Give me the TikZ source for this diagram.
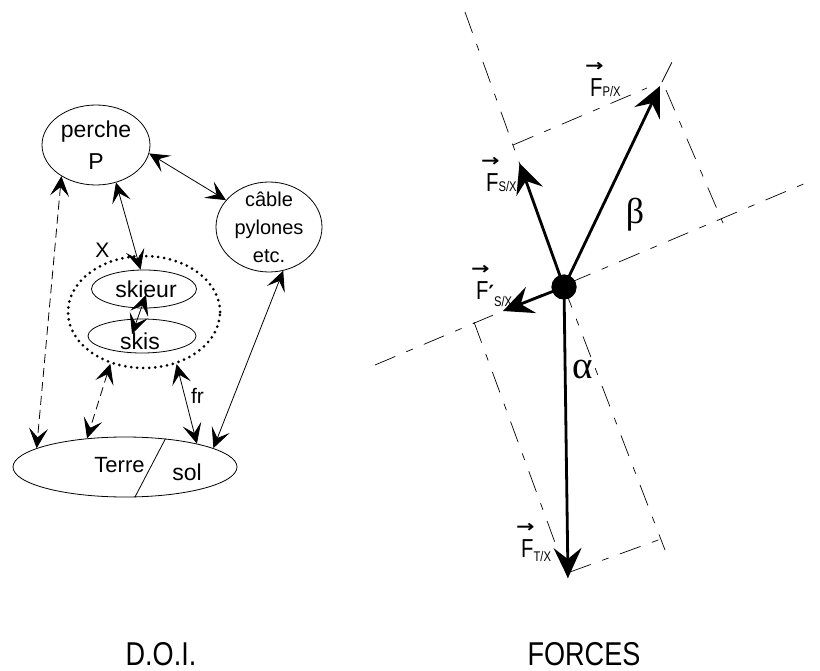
\documentclass[tikz,border=0pt]{standalone}
\usepackage{fontspec}
\setmainfont{Liberation Sans}
\newfontfamily\djv{DejaVu Sans}
\newfontfamily\serifg{Liberation Serif}
\usetikzlibrary{shapes.geometric,arrows.meta}
\newcommand{\vecF}[3]{%
  \makebox[0pt][l]{\hspace*{-5pt}\raisebox{25pt}{\scalebox{1.3}[1]{\djv\bfseries\fontsize{17}{17}\selectfont →}}}%
  \scalebox{0.78}[1]{F}#1\raisebox{#3}{\scalebox{0.8}[1]{\fontsize{14}{14}\selectfont #2}}}
\begin{document}
\begin{tikzpicture}[x=1pt,y=-1pt,
  ell/.style={ellipse, draw, line width=0.8pt, inner sep=0pt},
  txt/.style={font=\fontsize{23}{32}\selectfont},
  dotring/.style={line width=3pt, dash pattern=on 0pt off 6pt, line cap=round},
  conn/.style={line width=0.8pt, arrows={Stealth[length=20pt,width=19pt,inset=9pt]-Stealth[length=20pt,width=19pt,inset=9pt]}},
  dashleft/.style={dash pattern=on 9pt off 5pt},
  force/.style={line width=2.8pt, -{Stealth[length=30pt,width=28pt,inset=11pt]}},
  constr/.style={line width=0.7pt, dash pattern=on 22pt off 12pt on 7pt off 12pt},
  flab/.style={font=\fontsize{26}{26}\selectfont, inner sep=0pt},
  greek/.style={font=\serifg\fontsize{36}{36}\selectfont, inner sep=0pt},
  big/.style={font=\fontsize{33}{33}\selectfont, inner sep=0pt}]
\path[use as bounding box] (0,0) rectangle (820,671);

% ---------- D.O.I. ----------
\node[ell, minimum width=108pt, minimum height=80pt,
      label={[txt,align=center]center:{perche\\P}}] (perche) at (96,145) {};
\node[ell, minimum width=106pt, minimum height=90pt,
      label={[font=\fontsize{20}{28}\selectfont,align=center]center:{câble\\pylones\\etc.}}] (cable) at (269,227) {};
\node[ellipse, draw, dotring, inner sep=0pt, minimum width=152pt, minimum height=112pt] (X) at (144,312) {};
\node[ell, minimum width=105pt, minimum height=38pt,
      label={[txt,xshift=2pt]center:skieur}] (skieur) at (144,289) {};
\node[ell, minimum width=108pt, minimum height=34pt,
      label={[txt,yshift=-5pt,xshift=-2pt]center:skis}] (skis) at (142,336) {};
\node[ell, minimum width=224pt, minimum height=60pt] (terre) at (125,467) {};
\node[font=\fontsize{22}{22}\selectfont, anchor=base, inner sep=0pt] (terretxt) at (119.5,472) {Terre};
\node[txt, anchor=base, inner sep=0pt] (soltxt) at (187,480) {sol};
\draw[line width=0.8pt] (terre.35) -- (terre.-72);

\node[font=\fontsize{21}{21}\selectfont, anchor=base, inner sep=0pt] (xlab) at (102.5,258) {X};
\node[font=\fontsize{21}{21}\selectfont, anchor=base, inner sep=0pt] (frlab) at (197.5,403) {fr};

\draw[conn] (perche.-9) -- (cable.148);
\draw[conn] (perche.-62) -- (skieur.100);
\draw[conn, dashleft] (perche.222) -- (terre.168);
\coordinate (skA) at (132,334);
\coordinate (skB) at (146,295);
\draw[conn] (skA) -- (skB);
\draw[conn, dashleft] (X.237) -- (terre.143);
\draw[conn] (X.-58) -- (terre.18);
\draw[conn] (cable.-72) -- (terre.12);

\node[big, anchor=base] (doi) at (161,665) {\scalebox{0.82}[1]{D.O.I.}};

% ---------- FORCES ----------
\node[circle, fill, minimum size=25pt, inner sep=0pt] (O) at (564,287) {};
\coordinate (sl1) at (375,365);
\coordinate (sl2) at (813,180);
\coordinate (n1) at (465,12);
\coordinate (n2) at (665,550);
\coordinate (c1) at (513,145);
\coordinate (c1b) at (647,88);
\coordinate (pp1) at (666,90);
\coordinate (c2) at (723,223);
\coordinate (pe1) at (662,82);
\coordinate (pe2) at (673,60);
\coordinate (tp1) at (570,572);
\coordinate (c3) at (661,539);
\coordinate (c4) at (474,322);

\draw[constr] (sl1) -- (sl2);
\draw[constr] (n1) -- (O.center);
\draw[constr] (O.center) -- (n2);
\draw[constr] (c1) -- (c1b);
\draw[constr] (pp1) -- (c2);
\draw[constr] (pe1) -- (pe2);
\draw[constr] (tp1) -- (c3);

\coordinate (P) at (660,86);
\coordinate (S) at (519.5,163);
\coordinate (Sp) at (503,311);
\coordinate (T) at (568,578);
\draw[constr] (c4) -- (T);

\draw[force] (O.center) -- (P);
\draw[force] (O.center) -- (S);
\draw[force] (O.center) -- (Sp);
\draw[force] (O.center) -- (T);
\fill (O) circle (12.5pt);

\node[flab, anchor=base west] (lP) at (590,97) {\vecF{}{P/X}{0pt}};
\node[flab, anchor=base west] (lS) at (486,192) {\vecF{}{S/X}{0pt}};
\node[flab, anchor=base west] (lSp) at (476,300) {\vecF{\raisebox{-1pt}{\djv\bfseries\fontsize{21}{21}\selectfont ′}}{S/X}{-7pt}};
\node[flab, anchor=base west] (lT) at (521,557) {\vecF{}{T/X}{-4pt}};

\node[greek] (beta) at (635,215) {β};
\node[greek, font=\serifg\fontsize{39}{39}\selectfont] (alpha) at (583,369) {α};

\node[big, anchor=base] (forces) at (584,665) {\scalebox{0.82}[1]{FORCES}};
\end{tikzpicture}
\end{document}
